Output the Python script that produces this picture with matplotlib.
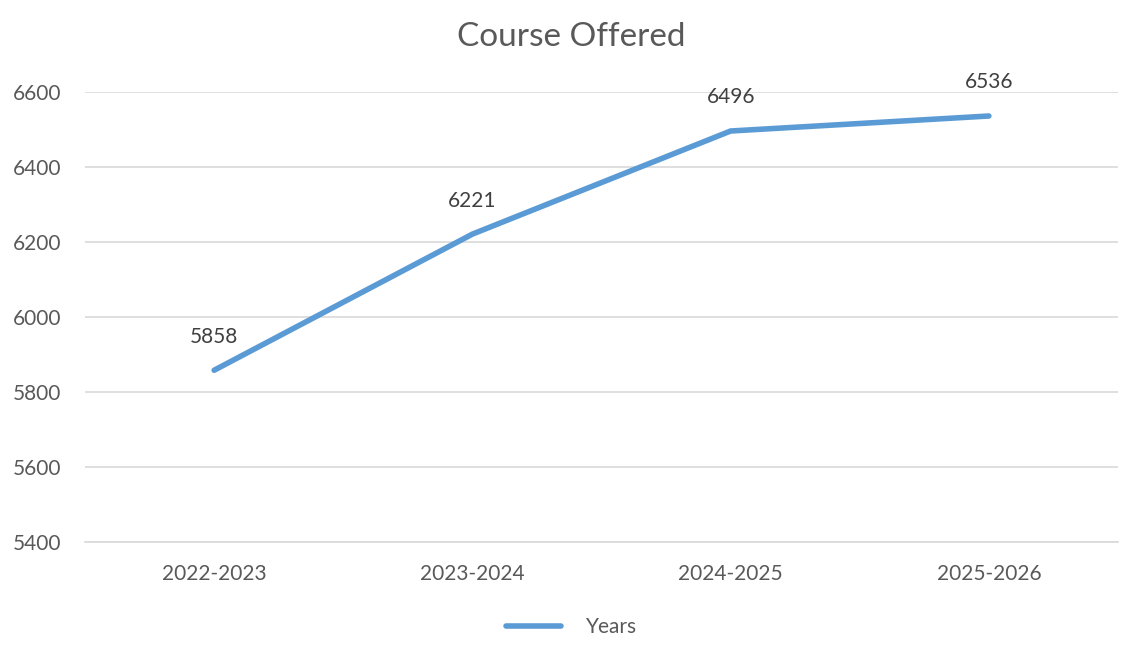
import matplotlib
matplotlib.use("Agg")
import matplotlib.pyplot as plt

categories = ["2022-2023", "2023-2024", "2024-2025", "2025-2026"]
values = [5858, 6221, 6496, 6536]
yticks = [5400, 5600, 5800, 6000, 6200, 6400, 6600]
series_name = "Years"
title = "Course Offered"

plt.rcParams['font.family'] = ['Lato', 'DejaVu Sans']

fig = plt.figure(figsize=(11.43, 6.6), dpi=100)
ax = fig.add_axes([85/1143, 1 - 542/660, (1118 - 85)/1143, (542 - 92)/660])

x = list(range(len(categories)))
ax.plot(x, values, color="#5B9BD5", linewidth=4, solid_capstyle="round", label=series_name, zorder=3)
for xi, v in zip(x, values):
    ax.annotate(str(v), (xi, v), xytext=(0, 17), textcoords="offset points",
                ha="center", va="bottom", fontsize=15, color="#404040")

ax.set_xlim(-0.5, len(categories) - 0.5)
ax.set_ylim(yticks[0], yticks[-1])
ax.set_yticks(yticks)
ax.set_xticks(x)
ax.set_xticklabels(categories)
ax.tick_params(axis="both", length=0, labelsize=15, colors="#595959")
ax.tick_params(axis="x", pad=16)
ax.tick_params(axis="y", pad=17)
ax.grid(axis="y", color="#D9D9D9", linewidth=1.2)
for s in ["top", "right", "left"]:
    ax.spines[s].set_visible(False)
ax.spines["bottom"].set_color("#D9D9D9")
ax.spines["bottom"].set_linewidth(1.2)

fig.text(0.5, 1 - 37/660, title, ha="center", va="center", fontsize=24, color="#595959")

leg = fig.legend(loc="center", bbox_to_anchor=(0.5, 1 - 627/660), frameon=False,
                 fontsize=15, handlelength=2.6, handletextpad=1.2)
for t in leg.get_texts():
    t.set_color("#595959")

fig.savefig("out.png", dpi=100, facecolor="white")
